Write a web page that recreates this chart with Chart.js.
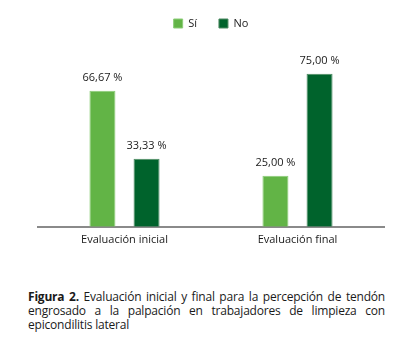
<!DOCTYPE html>
<html>
<head>
<meta charset="utf-8">
<script src="https://cdn.jsdelivr.net/npm/chart.js@4/dist/chart.umd.min.js"></script>
<style>
  html, body { margin: 0; padding: 0; background: #fff; }
  #wrap { position: relative; width: 414px; height: 346px; overflow: hidden; }
  #box { position: absolute; left: 0; top: -4px; width: 414px; height: 260px; }
  #caption {
    position: absolute; left: 28px; top: 290px; width: 357px;
    font-family: "Open Sans", sans-serif; font-size: 12px; line-height: 14px;
    color: #1a1a1a; text-align: justify; letter-spacing: -0.2px;
  }
</style>
</head>
<body>
<div id="wrap">
  <div id="box"><canvas id="barChart"></canvas></div>
  <div id="caption"><b>Figura 2.</b> Evaluación inicial y final para la percepción de tendón engrosado a la palpación en trabajadores de limpieza con epicondilitis lateral</div>
</div>
<script>
var categories = ['Evaluación inicial', 'Evaluación final'];
var siValues = [66.67, 25.00];
var noValues = [33.33, 75.00];

var font = '"Open Sans", sans-serif';

// percentage labels above each bar
var valueLabels = {
  id: 'valueLabels',
  afterDatasetsDraw: function(chart) {
    var ctx = chart.ctx;
    ctx.save();
    ctx.font = '11px ' + font;
    ctx.fillStyle = '#1a1a1a';
    ctx.textAlign = 'center';
    ctx.textBaseline = 'bottom';
    chart.data.datasets.forEach(function(ds, i) {
      chart.getDatasetMeta(i).data.forEach(function(bar, j) {
        var txt = ds.data[j].toFixed(2).replace('.', ',') + ' %';
        ctx.fillText(txt, bar.x, bar.y - 7);
      });
    });
    ctx.restore();
  }
};

var ctx = document.getElementById('barChart');

var myChart = new Chart(ctx, {
  type: 'bar',
  data: {
    labels: categories,
    datasets: [{
      label: 'Sí',
      data: siValues,
      backgroundColor: '#62b446',
      borderColor: '#8ccd78',
      borderWidth: 1
    }, {
      label: 'No',
      data: noValues,
      backgroundColor: '#00632c',
      borderColor: '#4d8a62',
      borderWidth: 1
    }]
  },
  options: {
    responsive: true,
    maintainAspectRatio: false,
    animation: false,
    categoryPercentage: 0.51,
    barPercentage: 0.59,
    layout: { padding: { left: 38, right: 30, top: 0, bottom: 4 } },
    plugins: {
      legend: {
        position: 'top',
        labels: {
          boxWidth: 9, boxHeight: 9, padding: 22,
          color: '#1a1a1a',
          font: { family: font, size: 11 }
        }
      },
      tooltip: { enabled: false }
    },
    scales: {
      x: {
        grid: { display: false, drawTicks: false },
        border: { display: true, color: '#8a8a8a', width: 2 },
        ticks: { color: '#1a1a1a', padding: 6, font: { family: font, size: 11 } }
      },
      y: {
        display: false,
        min: 0,
        max: 92
      }
    }
  },
  plugins: [valueLabels]
});
</script>
</body>
</html>
